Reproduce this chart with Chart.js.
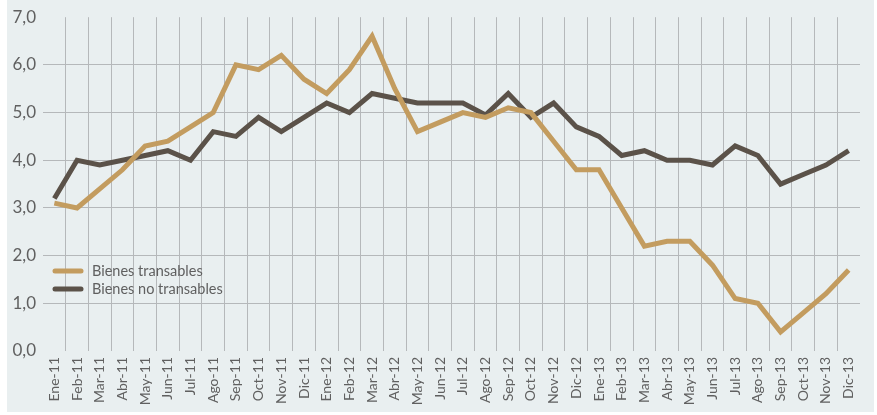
<!DOCTYPE html>
<html>
<head>
<meta charset="utf-8">
<script src="https://cdn.jsdelivr.net/npm/chart.js@4"></script>
<style>
  html, body { margin: 0; padding: 0; background: #ffffff; }
  #wrap { width: 877px; height: 415px; }
</style>
</head>
<body>
<div id="wrap"><canvas id="myChart" width="877" height="415"></canvas></div>
<script>
const months = ['Ene-11', 'Feb-11', 'Mar-11', 'Abr-11', 'May-11', 'Jun-11', 'Jul-11', 'Ago-11', 'Sep-11', 'Oct-11', 'Nov-11', 'Dic-11',
    'Ene-12', 'Feb-12', 'Mar-12', 'Abr-12', 'May-12', 'Jun-12', 'Jul-12', 'Ago-12', 'Sep-12', 'Oct-12', 'Nov-12', 'Dic-12',
    'Ene-13', 'Feb-13', 'Mar-13', 'Abr-13', 'May-13', 'Jun-13', 'Jul-13', 'Ago-13', 'Sep-13', 'Oct-13', 'Nov-13', 'Dic-13'];

const transables = [3.1, 3.0, 3.4, 3.8, 4.3, 4.4, 4.7, 5.0, 6.0, 5.9, 6.2, 5.7,
    5.4, 5.9, 6.6, 5.5, 4.6, 4.8, 5.0, 4.9, 5.1, 5.0, 4.4, 3.8,
    3.8, 3.0, 2.2, 2.3, 2.3, 1.8, 1.1, 1.0, 0.4, 0.8, 1.2, 1.7];

const noTransables = [3.2, 4.0, 3.9, 4.0, 4.1, 4.2, 4.0, 4.6, 4.5, 4.9, 4.6, 4.9,
    5.2, 5.0, 5.4, 5.3, 5.2, 5.2, 5.2, 4.95, 5.4, 4.9, 5.2, 4.7,
    4.5, 4.1, 4.2, 4.0, 4.0, 3.9, 4.3, 4.1, 3.5, 3.7, 3.9, 4.2];

const seriesNames = ['Bienes transables', 'Bienes no transables'];
const yTicks = [0, 1, 2, 3, 4, 5, 6, 7];

const tan = '#c39c5f';
const dark = '#5b5249';
const gridColor = '#b5b8ba';
const textColor = '#606060';
const fontFamily = 'Lato, "Open Sans", sans-serif';

// panel background
const background = {
    id: 'background',
    beforeDraw(chart) {
        const ctx = chart.ctx;
        ctx.save();
        ctx.fillStyle = '#e9eff0';
        ctx.fillRect(7, 0, 867, 412);
        ctx.restore();
    }
};

// legend drawn inside the plot
const insideLegend = {
    id: 'insideLegend',
    afterDatasetsDraw(chart) {
        const ctx = chart.ctx;
        ctx.save();
        ctx.font = '14.5px ' + fontFamily;
        ctx.textBaseline = 'middle';
        chart.data.datasets.forEach((ds, i) => {
            const y = 271 + i * 18;
            ctx.strokeStyle = ds.borderColor;
            ctx.lineWidth = 5;
            ctx.lineCap = 'round';
            ctx.beginPath();
            ctx.moveTo(55, y);
            ctx.lineTo(81, y);
            ctx.stroke();
            ctx.fillStyle = textColor;
            ctx.fillText(ds.label, 92, y);
        });
        ctx.restore();
    }
};

const config = {
    type: 'line',
    data: {
        labels: months,
        datasets: [{
            label: seriesNames[0],
            data: transables,
            borderColor: tan,
            borderWidth: 5,
            pointRadius: 0,
            borderJoinStyle: 'miter',
            tension: 0
        }, {
            label: seriesNames[1],
            data: noTransables,
            borderColor: dark,
            borderWidth: 5,
            pointRadius: 0,
            borderJoinStyle: 'miter',
            tension: 0
        }]
    },
    options: {
        responsive: false,
        animation: false,
        layout: {
            padding: { left: 7, right: 17, top: 13, bottom: 0 }
        },
        scales: {
            x: {
                offset: true,
                grid: {
                    offset: true,
                    drawTicks: false,
                    color: function (c) {
                        return (c.index > 0) ? gridColor : 'rgba(0,0,0,0)';
                    }
                },
                border: { display: false },
                ticks: {
                    autoSkip: false,
                    minRotation: 90,
                    maxRotation: 90,
                    padding: 6,
                    color: textColor,
                    font: { family: fontFamily, size: 14 }
                },
                afterFit: function (scale) { scale.height = 64; }
            },
            y: {
                min: 0,
                max: 7,
                afterBuildTicks: function (scale) {
                    scale.ticks = yTicks.map(v => ({ value: v }));
                },
                grid: {
                    drawTicks: false,
                    color: function (c) {
                        const v = c.tick ? c.tick.value : 0;
                        return (v > 0 && v < 7) ? gridColor : 'rgba(0,0,0,0)';
                    }
                },
                border: { display: false },
                ticks: {
                    padding: 7,
                    color: textColor,
                    font: { family: fontFamily, size: 17 },
                    callback: function (value) {
                        return value.toFixed(1).replace('.', ',');
                    }
                },
                afterFit: function (scale) { scale.width = 36; }
            }
        },
        plugins: {
            legend: { display: false },
            tooltip: { enabled: false }
        }
    },
    plugins: [background, insideLegend]
};

const myChart = new Chart(document.getElementById('myChart'), config);
</script>
</body>
</html>
